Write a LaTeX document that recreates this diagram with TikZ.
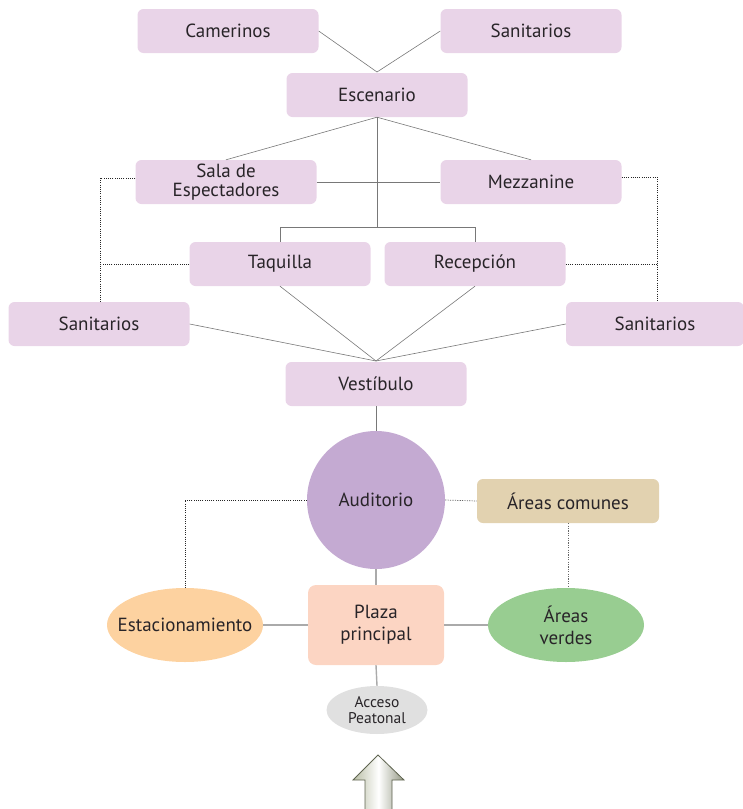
\documentclass[tikz,border=0pt]{standalone}
\usepackage{fontspec}
\setmainfont{PT Sans}
\usetikzlibrary{shapes.geometric}
\definecolor{boxpink}{RGB}{233,212,232}
\definecolor{audpurple}{RGB}{196,170,210}
\definecolor{commontan}{RGB}{226,210,176}
\definecolor{parkorange}{RGB}{253,210,160}
\definecolor{plazapeach}{RGB}{252,213,195}
\definecolor{greenarea}{RGB}{152,205,145}
\definecolor{accessgray}{RGB}{224,224,224}
\definecolor{txt}{RGB}{40,36,40}
\definecolor{thinline}{RGB}{120,120,120}
\definecolor{softline}{RGB}{170,170,170}
\definecolor{arrowedge}{RGB}{95,100,80}
\definecolor{arrowtint}{RGB}{185,190,165}
\begin{document}
\begin{tikzpicture}[x=1pt,y=-1pt,
  every node/.style={text=txt,font=\fontsize{19}{19}\selectfont,align=center,inner sep=0pt},
  room/.style={fill=boxpink,rounded corners=6pt,minimum width=181pt,minimum height=44pt},
  link/.style={draw=thinline,line width=0.6pt},
  softlink/.style={draw=softline,line width=1.4pt},
  dotlink/.style={draw=black!85,line width=0.9pt,dash pattern=on 1pt off 1.2pt},
  faintdot/.style={draw=black!60,line width=0.7pt,dash pattern=on 1.2pt off 1.2pt},
  blob/.style={ellipse,minimum width=156pt,minimum height=74pt}]
\useasboundingbox (0,0) rectangle (743,809);

% stage block
\node[room] (cam) at (228,31) {Camerinos};
\node[room] (santop) at (531,31) {Sanitarios};
\node[room] (esc) at (377,95) {Escenario};
\node[room] (sala) at (226,182) {Sala de\\Espectadores};
\node[room] (mez) at (531,182) {Mezzanine};
\node[room] (taq) at (280,264) {Taquilla};
\node[room] (rec) at (475,264) {Recepción};
\node[room] (sanl) at (99,324) {Sanitarios};
\node[room,minimum width=178pt] (sanr) at (655,324) {Sanitarios};
\node[room] (vest) at (376,384) {Vestíbulo};

% outdoor block
\node[circle,fill=audpurple,minimum size=138pt] (aud) at (376,500) {Auditorio};
\node[fill=commontan,rounded corners=6pt,minimum width=182pt,minimum height=44pt] (com) at (568,501) {Áreas comunes};
\node[blob,fill=parkorange,inner xsep=-14pt] (est) at (185,625) {Estacionamiento};
\node[fill=plazapeach,rounded corners=8pt,minimum width=136pt,minimum height=80pt] (plaza) at (376,625) {Plaza\\[3pt]principal};
\node[blob,fill=greenarea] (verde) at (566,625) {Áreas\\[3pt]verdes};
\node[ellipse,fill=accessgray,minimum width=101pt,minimum height=48pt,inner xsep=-6pt,font=\fontsize{15.5}{16}\selectfont] (acc) at (377,710) {Acceso\\Peatonal};

% stage connectors
\coordinate (escin) at (377,72);
\draw[link] (cam.east) -- (escin) -- (santop.west);
\draw[link] (esc.south) -- (sala.north);
\draw[link] (esc.south) -- (mez.north);
\draw[link] (sala.east) -- (mez.west);
\coordinate (fork) at (377,227);
\draw[link] (esc.south) -- (fork);
\draw[link] (taq.north) -- (taq.north |- fork) -- (rec.north |- fork) -- (rec.north);
\coordinate (vin) at (376,361);
\draw[link] (taq.south) -- (vin);
\draw[link] (rec.south) -- (vin);
\draw[link] (sanl.east) -- (vin);
\draw[link] (sanr.west) -- (vin);
\draw[link] (vest.south) -- (aud.north);

% service links
\coordinate (lrail) at (100,178);
\coordinate (rrail) at (657,177);
\draw[dotlink] (sala.west |- lrail) -- (lrail) -- (lrail |- sanl.north);
\draw[dotlink] (taq.west) -- (taq.west -| lrail);
\draw[dotlink] (mez.east |- rrail) -- (rrail) -- (rrail |- sanr.north);
\draw[dotlink] (rec.east) -- (rec.east -| rrail);

% outdoor connectors
\draw[softlink] (aud.south) -- (plaza.north);
\draw[softlink] (plaza.west) -- (est.east);
\draw[softlink] (plaza.east) -- (verde.west);
\draw[softlink] (plaza.south) -- (acc.north);
\draw[dotlink] (aud.west) -- (est.north |- aud.west) -- (est.north);
\draw[faintdot] (aud.east) -- (com.west);
\draw[faintdot] (com.south) -- (com.south |- verde.north);

% entrance arrow
\shade[left color=arrowtint,right color=arrowtint!80!black,middle color=white,draw=arrowedge,line width=0.8pt]
  (378,755) -- (404,780) -- (392,780) -- (392,812) -- (365,812) -- (365,780) -- (353,780) -- cycle;
\end{tikzpicture}
\end{document}
